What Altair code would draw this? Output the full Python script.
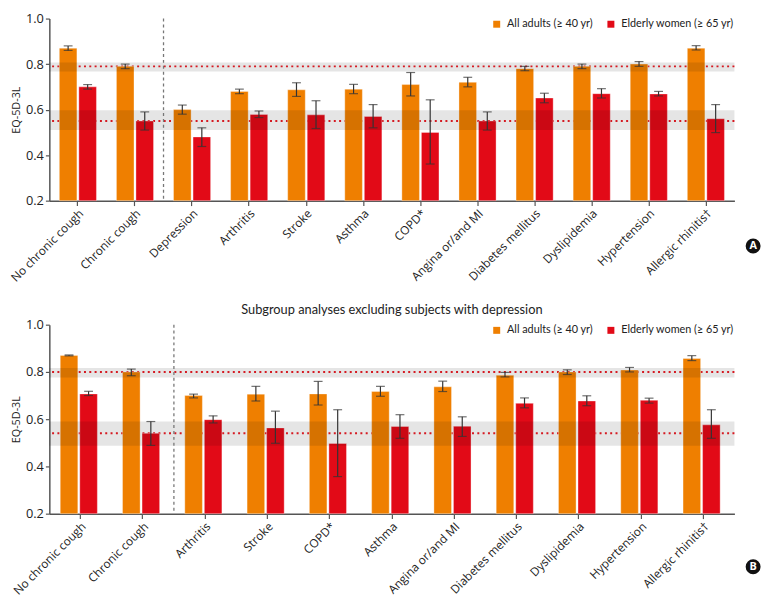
import altair as alt
import pandas as pd

GROUPS = ["All adults (≥ 40 yr)", "Elderly women (≥ 65 yr)"]
COLORS = ["#EF7F00", "#E20A17"]

# ---- Panel A ----
cats_a = ["No chronic cough", "Chronic cough", "Depression", "Arthritis", "Stroke", "Asthma",
          "COPD*", "Angina or/and MI", "Diabetes mellitus", "Dyslipidemia", "Hypertension",
          "Allergic rhinitis†"]
adults_a = [0.87, 0.79, 0.60, 0.68, 0.687, 0.69, 0.71, 0.72, 0.78, 0.79, 0.80, 0.87]
adults_a_lo = [0.86, 0.78, 0.58, 0.67, 0.658, 0.67, 0.66, 0.70, 0.771, 0.78, 0.79, 0.862]
adults_a_hi = [0.88, 0.80, 0.62, 0.69, 0.718, 0.711, 0.763, 0.742, 0.79, 0.80, 0.811, 0.881]
elderly_a = [0.70, 0.55, 0.48, 0.579, 0.577, 0.57, 0.50, 0.55, 0.651, 0.67, 0.669, 0.56]
elderly_a_lo = [0.69, 0.51, 0.438, 0.565, 0.517, 0.52, 0.361, 0.51, 0.63, 0.651, 0.66, 0.499]
elderly_a_hi = [0.71, 0.59, 0.52, 0.594, 0.639, 0.622, 0.643, 0.59, 0.672, 0.692, 0.68, 0.622]
ref_a = [0.79, 0.55]
band_a_lo = [0.767, 0.51]
band_a_hi = [0.807, 0.597]

# ---- Panel B ----
cats_b = ["No chronic cough", "Chronic cough", "Arthritis", "Stroke", "COPD*", "Asthma",
          "Angina or/and MI", "Diabetes mellitus", "Dyslipidemia", "Hypertension",
          "Allergic rhinitis†"]
adults_b = [0.87, 0.80, 0.70, 0.706, 0.707, 0.717, 0.737, 0.786, 0.80, 0.808, 0.857]
adults_b_lo = [0.868, 0.784, 0.69, 0.677, 0.66, 0.697, 0.717, 0.779, 0.789, 0.80, 0.848]
adults_b_hi = [0.872, 0.812, 0.706, 0.739, 0.76, 0.739, 0.761, 0.798, 0.809, 0.819, 0.869]
elderly_b = [0.707, 0.54, 0.598, 0.563, 0.497, 0.569, 0.57, 0.667, 0.677, 0.68, 0.576]
elderly_b_lo = [0.70, 0.489, 0.584, 0.498, 0.357, 0.519, 0.527, 0.648, 0.657, 0.668, 0.519]
elderly_b_hi = [0.718, 0.59, 0.614, 0.634, 0.64, 0.619, 0.61, 0.69, 0.699, 0.689, 0.64]
ref_b = [0.80, 0.54]
band_b_lo = [0.776, 0.487]
band_b_hi = [0.817, 0.59]

title_b = "Subgroup analyses excluding subjects with depression"

FONT = "Open Sans"
W = 696
PAD_IN = 0.35


def make_df(cats, a, alo, ahi, e, elo, ehi):
    rows = []
    for i, c in enumerate(cats):
        rows.append(dict(cat=c, grp=GROUPS[0], val=a[i], lo=alo[i], hi=ahi[i]))
        rows.append(dict(cat=c, grp=GROUPS[1], val=e[i], lo=elo[i], hi=ehi[i]))
    return pd.DataFrame(rows)


def panel(df, cats, refs, blo, bhi, split_cat, letter, height, letter_y, title=None):
    xs = alt.Scale(domain=cats, paddingInner=PAD_IN, paddingOuter=PAD_IN / 2)
    xaxis = alt.Axis(title=None, labelAngle=-45, labelFont=FONT, labelFontSize=12,
                     labelColor="#222", tickSize=5, tickColor="#555", domainColor="#555",
                     domainWidth=1.5, tickWidth=1.2, labelPadding=2)
    x = alt.X("cat:N", sort=cats, scale=xs, axis=xaxis)
    xo = alt.XOffset("grp:N", sort=GROUPS, scale=alt.Scale(domain=GROUPS, paddingInner=0.1))
    ysc = alt.Scale(domain=[0.2, 1.0], zero=False, nice=False)
    yaxis = alt.Axis(title="EQ-5D-3L", values=[0.2, 0.4, 0.6, 0.8, 1.0], format=".1f",
                     labelFont=FONT, labelFontSize=13, labelColor="#222", tickSize=4,
                     tickColor="#555", domainColor="#555", domainWidth=1.5, tickWidth=1.2,
                     grid=False, titleFont=FONT, titleFontSize=11, titleFontWeight="normal",
                     titleColor="#222", titlePadding=4, labelPadding=2)

    base = alt.Chart(df)
    lines_df = pd.DataFrame({"y": refs})
    bands_df = pd.DataFrame({"lo": blo, "hi": bhi})

    refl = alt.Chart(lines_df).mark_rule(color="#EE1C25", strokeDash=[2, 3.4], strokeWidth=2).encode(
        y=alt.Y("y:Q", scale=ysc, axis=yaxis))
    bars = base.mark_bar(stroke="white", strokeOpacity=0.35, strokeWidth=1).encode(
        x=x, xOffset=xo,
        y=alt.Y("val:Q", scale=ysc, axis=yaxis),
        y2=alt.datum(0.2),
        color=alt.Color("grp:N", sort=GROUPS, scale=alt.Scale(domain=GROUPS, range=COLORS),
                        legend=alt.Legend(title=None, orient="top-right", direction="horizontal",
                                          offset=0, symbolType="square", symbolSize=50,
                                          symbolStrokeWidth=0, labelFont="Lato", labelFontSize=11,
                                          labelColor="#222", columnPadding=12, labelOffset=5)))
    bands = alt.Chart(bands_df).mark_rect(color="black", opacity=0.1).encode(
        y=alt.Y("lo:Q", scale=ysc, axis=yaxis), y2="hi:Q")
    err = base.mark_rule(color="#333", strokeWidth=1.2).encode(
        x=x, xOffset=xo, y=alt.Y("lo:Q", scale=ysc, axis=yaxis), y2="hi:Q")
    cap_lo = base.mark_tick(color="#333", thickness=1.2, size=9).encode(
        x=x, xOffset=xo, y=alt.Y("lo:Q", scale=ysc, axis=yaxis))
    cap_hi = base.mark_tick(color="#333", thickness=1.2, size=9).encode(
        x=x, xOffset=xo, y=alt.Y("hi:Q", scale=ysc, axis=yaxis))
    step = W / len(cats)
    split = alt.Chart(pd.DataFrame({"cat": [split_cat]})).mark_rule(
        color="#777", strokeDash=[3, 3], strokeWidth=1.3, xOffset=step * PAD_IN / 2).encode(
        x=alt.X("cat:N", sort=cats, scale=xs, axis=xaxis, bandPosition=1))
    letter_df = pd.DataFrame({"t": [letter]})
    circ = alt.Chart(letter_df).mark_circle(size=230, color="#111", opacity=1).encode(
        x=alt.value(715), y=alt.value(letter_y))
    txt = alt.Chart(letter_df).mark_text(color="white", fontWeight="bold", fontSize=11,
                                         font=FONT).encode(
        text="t:N", x=alt.value(715), y=alt.value(letter_y + 0.5))

    props = dict(width=W, height=height)
    if title:
        props["title"] = alt.TitleParams(title, anchor="middle", font="Lato", fontSize=13,
                                         fontWeight="normal", color="#222", offset=2)
    return alt.layer(refl, bars, bands, err, cap_lo, cap_hi, split, circ, txt).properties(**props)


df_a = make_df(cats_a, adults_a, adults_a_lo, adults_a_hi, elderly_a, elderly_a_lo, elderly_a_hi)
df_b = make_df(cats_b, adults_b, adults_b_lo, adults_b_hi, elderly_b, elderly_b_lo, elderly_b_hi)

pa = panel(df_a, cats_a, ref_a, band_a_lo, band_a_hi, "Chronic cough", "A", 185, 231)
pb = panel(df_b, cats_b, ref_b, band_b_lo, band_b_hi, "Chronic cough", "B", 192, 246, title=title_b)

chart = alt.vconcat(pa, pb, spacing=20).resolve_legend(color="independent").properties(
    padding=0, background="white").configure_view(stroke=None)

chart.save("out.html", embed_options={"renderer": "svg", "actions": False})
